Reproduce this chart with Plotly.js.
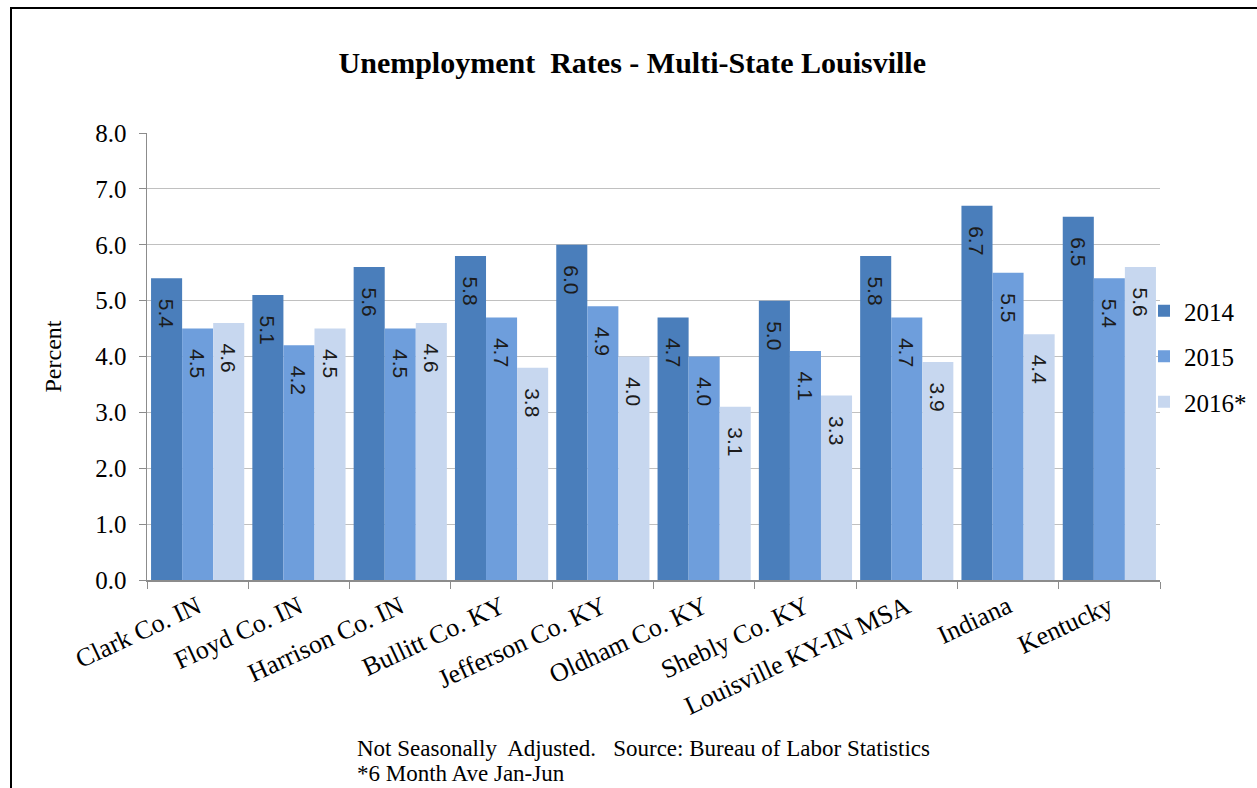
<!DOCTYPE html>
<html>
<head>
<meta charset="utf-8">
<script src="https://cdn.plot.ly/plotly-3.0.1.min.js"></script>
<style>
html,body{margin:0;padding:0;background:#fff;overflow:hidden;}
#chart{width:1257px;height:788px;position:absolute;left:0;top:0;}
#frame{position:absolute;left:10px;top:7px;width:1400px;height:900px;border-left:2px solid #000;border-top:2px solid #000;pointer-events:none;}
</style>
</head>
<body>
<div id="chart"></div>
<div id="frame"></div>
<script>
const categories = ["Clark Co. IN","Floyd Co. IN","Harrison Co. IN","Bullitt Co. KY","Jefferson Co. KY","Oldham Co. KY","Shebly Co. KY","Louisville KY-IN MSA","Indiana","Kentucky"];
const seriesNames = ["2014","2015","2016*"];
const values2014 = [5.4,5.1,5.6,5.8,6.0,4.7,5.0,5.8,6.7,6.5];
const values2015 = [4.5,4.2,4.5,4.7,4.9,4.0,4.1,4.7,5.5,5.4];
const values2016 = [4.6,4.5,4.6,3.8,4.0,3.1,3.3,3.9,4.4,5.6];
const yTickVals = [0,1,2,3,4,5,6,7,8];
const colors = ["#4A7EBB","#6E9EDC","#C7D7EF"];

const serif = "'Liberation Serif','Times New Roman',serif";
const sans = "'Liberation Sans',Arial,sans-serif";

const allValues = [values2014, values2015, values2016];
const traces = allValues.map((v,i)=>({
  type:'bar',
  name: seriesNames[i],
  x: categories,
  y: v,
  marker:{color:colors[i], line:{width:0}},
  texttemplate:'\u00a0\u00a0\u00a0%{y:.1f}',
  textposition:'inside',
  insidetextanchor:'end',
  textangle:90,
  constraintext:'none',
  textfont:{family:sans,size:21,color:'#1c1c1c'},
  legendgroup:'g'+i,
  hoverinfo:'skip'
}));

const layout = {
  width:1257, height:788,
  margin:{l:147, r:97, t:133, b:208, autoexpand:false},
  paper_bgcolor:'#ffffff', plot_bgcolor:'#ffffff',
  barmode:'group', bargap:0.08, bargroupgap:0,
  showlegend:true,
  title:{text:'Unemployment\u00a0 Rates - Multi-State Louisville', font:{family:serif,size:30,color:'#000',weight:'bold'},
    xref:'container', x:0.503, xanchor:'center', yref:'container', y:1-62/788, yanchor:'middle'},
  xaxis:{
    type:'category',
    tickangle:-25,
    tickfont:{family:serif,size:26,color:'#000'},
    showline:true, linecolor:'#8C8C8C', linewidth:1.5,
    ticks:'outside', tickson:'boundaries', ticklen:7, tickcolor:'#8C8C8C',
    showgrid:false, automargin:false, fixedrange:true
  },
  yaxis:{
    range:[0,8], tickvals:yTickVals, tickformat:'.1f',
    tickfont:{family:serif,size:25,color:'#000'},
    showline:true, linecolor:'#8C8C8C', linewidth:1.5,
    ticks:'outside', ticklen:7, tickcolor:'#8C8C8C', ticklabelstandoff:7,
    showgrid:true, gridcolor:'#C0C0C0', gridwidth:1,
    zeroline:false, automargin:false, fixedrange:true,
    title:{text:'Percent', font:{family:serif,size:24,color:'#000'}, standoff:27}
  },
  legend:{
    x:(1160-16-147)/1013, xanchor:'left', y:0.5, yanchor:'middle',
    font:{family:serif,size:25,color:'#000'},
    traceorder:'grouped', tracegroupgap:10,
    bgcolor:'rgba(0,0,0,0)', itemclick:false
  },
  annotations:[
    {text:'Not Seasonally\u00a0 Adjusted.\u00a0\u00a0 Source: Bureau of Labor Statistics', xref:'paper', yref:'paper',
     x:(355-147)/1013, y:(580-748)/447, xanchor:'left', yanchor:'middle', showarrow:false,
     font:{family:serif,size:23,color:'#000'}},
    {text:'*6 Month Ave Jan-Jun', xref:'paper', yref:'paper',
     x:(355-147)/1013, y:(580-773)/447, xanchor:'left', yanchor:'middle', showarrow:false,
     font:{family:serif,size:23,color:'#000'}}
  ]
};

Plotly.newPlot('chart', traces, layout, {staticPlot:true, displayModeBar:false});
</script>
</body>
</html>
